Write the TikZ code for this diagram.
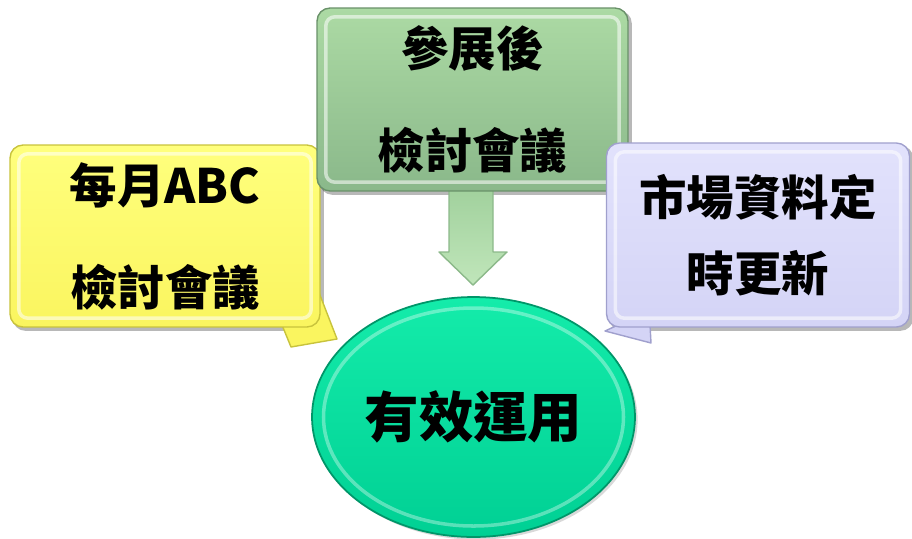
\documentclass[tikz,border=0pt]{standalone}
\usepackage{fontspec}
\newfontfamily\cjk{Noto Sans CJK TC}
\usetikzlibrary{shapes.geometric,shadows,backgrounds}
\definecolor{ylwT}{RGB}{255,255,125}
\definecolor{ylwB}{RGB}{250,245,95}
\definecolor{ylwR}{RGB}{200,195,60}
\definecolor{grnT}{RGB}{172,218,164}
\definecolor{grnB}{RGB}{138,184,138}
\definecolor{grnR}{RGB}{105,145,105}
\definecolor{arrT}{RGB}{160,208,156}
\definecolor{arrB}{RGB}{192,230,186}
\definecolor{arrR}{RGB}{140,185,138}
\definecolor{prpT}{RGB}{226,226,252}
\definecolor{prpB}{RGB}{212,212,246}
\definecolor{prpR}{RGB}{160,160,205}
\definecolor{elT}{RGB}{20,236,170}
\definecolor{elB}{RGB}{0,208,148}
\definecolor{elR}{RGB}{0,150,105}
\begin{document}
\begin{tikzpicture}[x=0.02cm,y=-0.02cm,
  bevel/.style={path picture={\draw[white,opacity=0.55,line width=2pt,rounded corners=0.18cm]
     ([shift={(5pt,-5pt)}]path picture bounding box.north west) rectangle
     ([shift={(-5pt,5pt)}]path picture bounding box.south east);}},
  box/.style={rectangle,rounded corners=0.26cm,draw=#1,line width=0.8pt,inner sep=0pt,
     align=center,font=\cjk\bfseries\fontsize{27}{58}\selectfont,bevel},
  boxshadow/.style={fill=black,opacity=0.28,rounded corners=0.26cm},
  tail/.style={draw=#1,line width=0.8pt,line join=round}]
\useasboundingbox (0,0) rectangle (912,538);

% tails
\path[tail=ylwR,fill=ylwB] (318,290) -- (337,339) -- (291,347) -- (282,325) -- cycle;
\path[tail=prpR,fill=prpB] (618,325) -- (605,331) -- (651,343) -- (650,325) -- cycle;

% arrow
\path[tail=arrR,top color=arrT,bottom color=arrB]
  (449,185) -- (493,185) -- (493,252) -- (507,252) -- (473,285) -- (439,252) -- (449,252) -- cycle;

% boxes
\node[box=ylwR,top color=ylwT,bottom color=ylwB,minimum width=6.2cm,minimum height=3.64cm]
  (monthly) at (165,236) {每月ABC\\檢討會議};
\node[box=grnR,top color=grnT,bottom color=grnB,minimum width=6.22cm,minimum height=3.66cm]
  (expo) at (472.5,99.5) {參展後\\檢討會議};
\node[box=prpR,top color=prpT,bottom color=prpB,minimum width=6.06cm,minimum height=3.68cm,
  font=\cjk\bfseries\fontsize{27}{43}\selectfont]
  (market) at (758,235) {市場資料定\\時更新};

\begin{pgfonlayer}{background}
  \foreach \n in {monthly,expo,market}
    \path[boxshadow] ([shift={(1.8pt,-1.8pt)}]\n.north west) rectangle ([shift={(1.8pt,-1.8pt)}]\n.south east);
\end{pgfonlayer}

% ellipse
\node[ellipse,draw=elR,line width=1pt,top color=elT,bottom color=elB,
  minimum width=6.46cm,minimum height=4.8cm,inner sep=0pt,
  font=\cjk\bfseries\fontsize{31}{36}\selectfont,
  drop shadow={shadow xshift=1.5pt,shadow yshift=-1.5pt,opacity=0.3}]
  (use) at (473.5,417) {有效運用};
\draw[white,opacity=0.35,line width=2pt] (use.center) ellipse [x radius=150, y radius=109];
\end{tikzpicture}
\end{document}
